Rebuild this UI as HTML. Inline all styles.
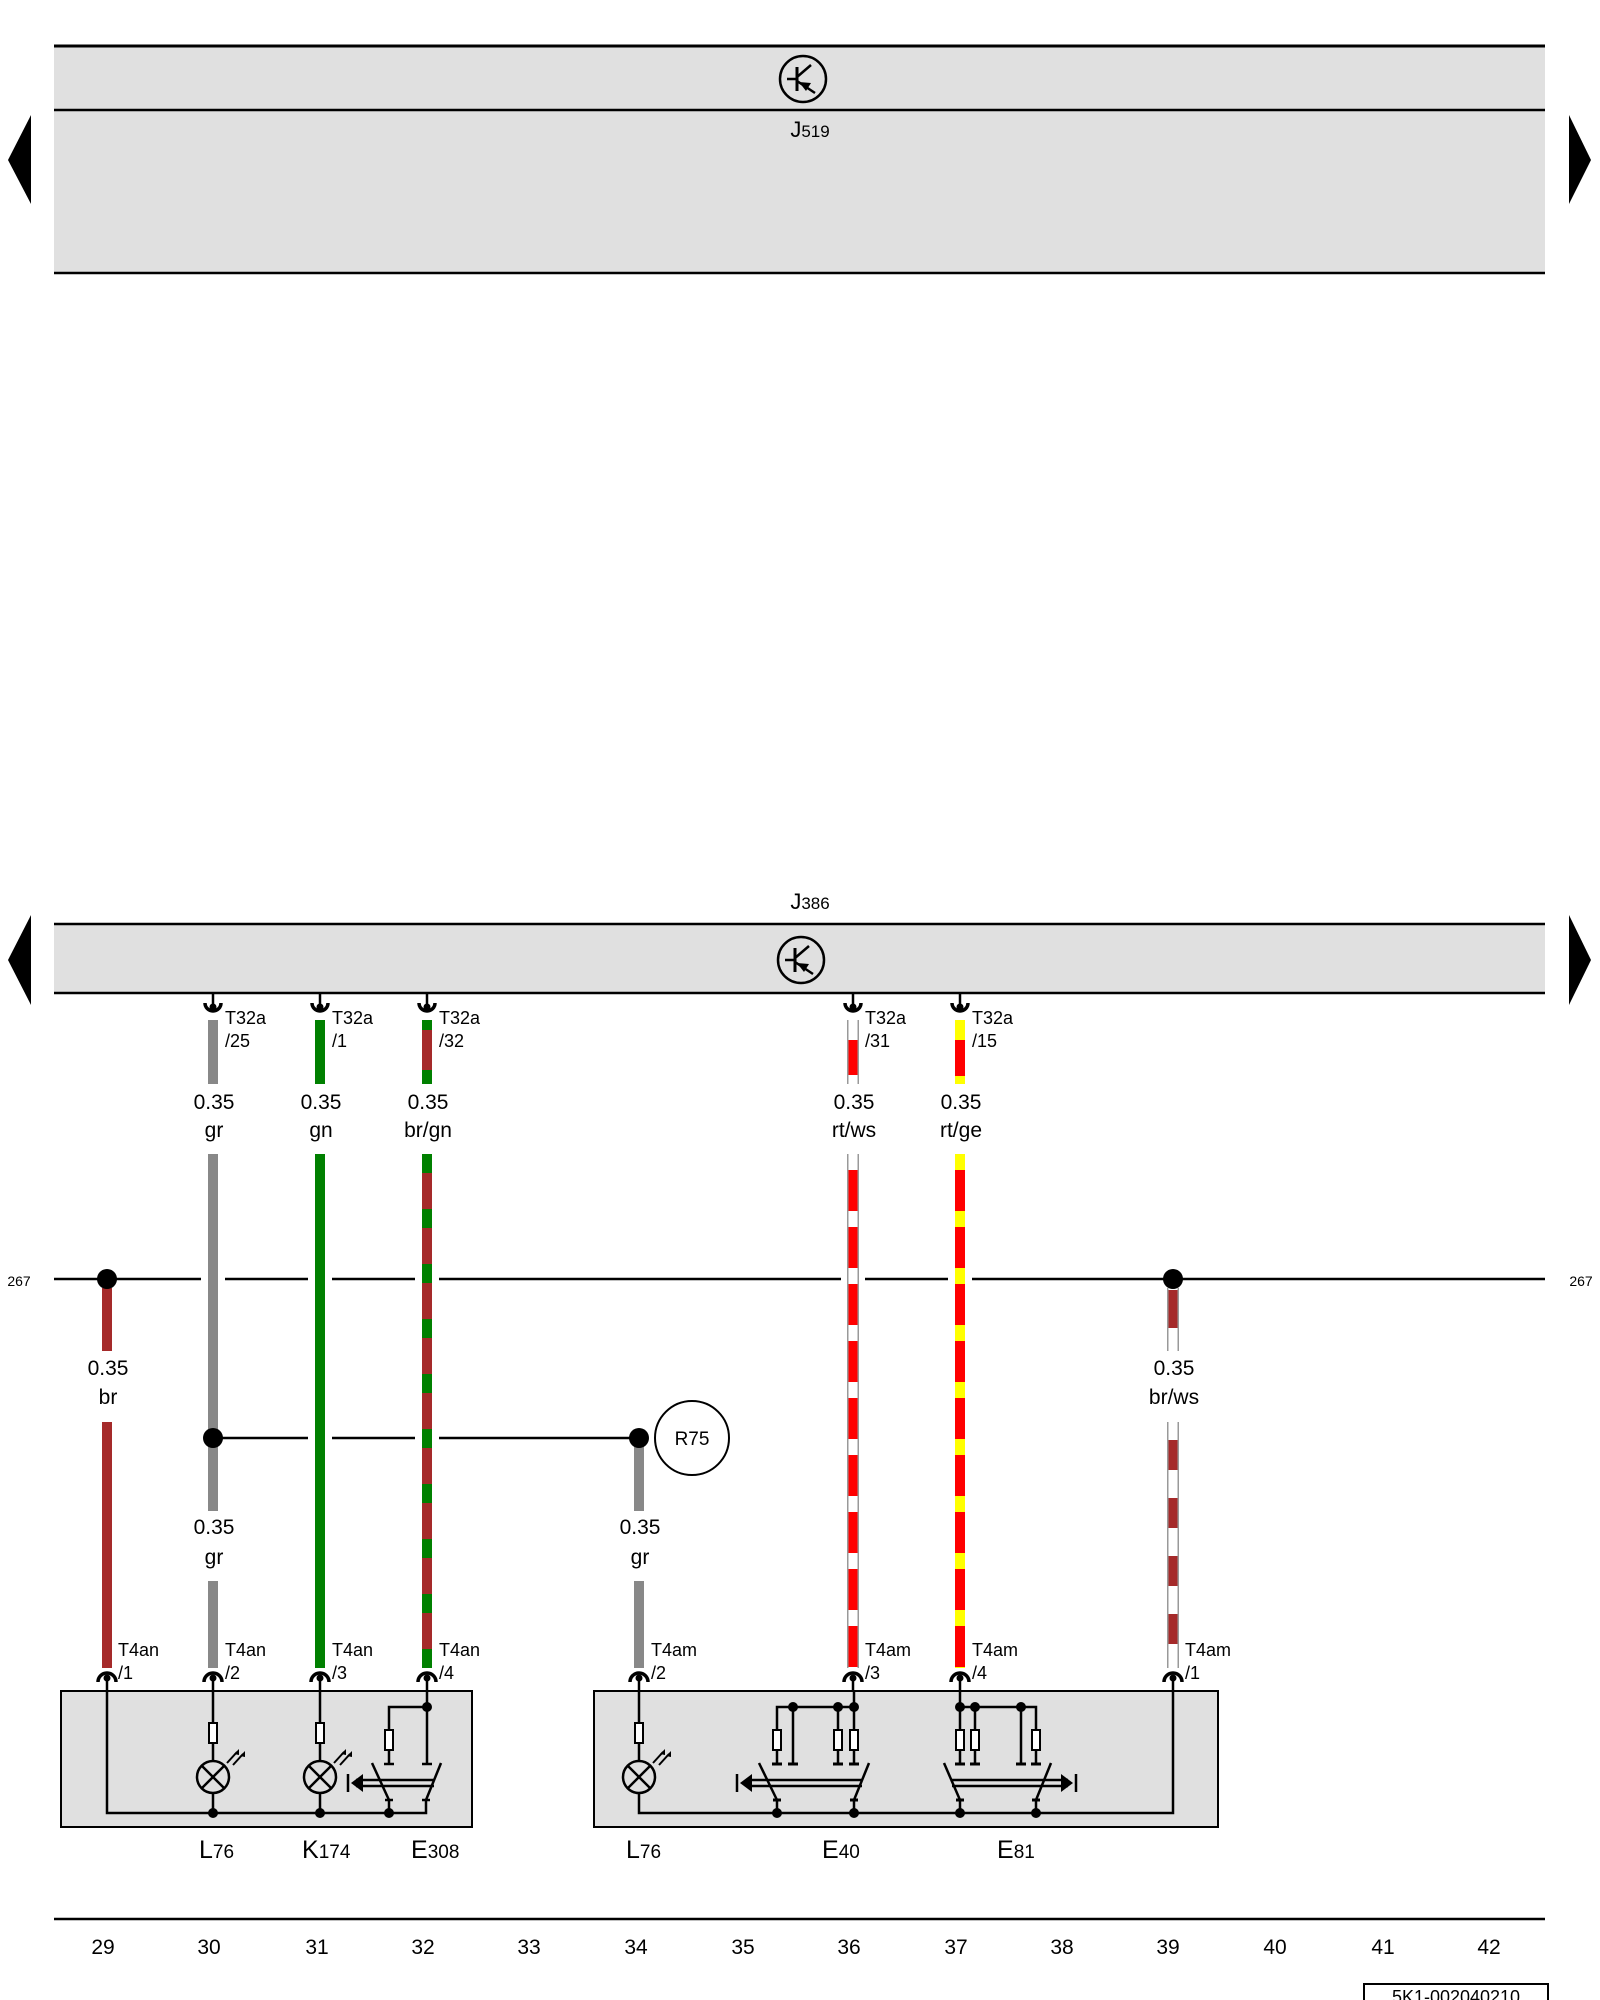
<!DOCTYPE html>
<html><head><meta charset="utf-8"><style>
html,body{margin:0;padding:0;background:#fff}
svg{display:block}
text{font-family:"Liberation Sans",sans-serif;fill:#000}
</style></head><body>
<svg width="1600" height="2000" viewBox="0 0 1600 2000" xmlns="http://www.w3.org/2000/svg">
<defs>
<g id="ctop"><line x1="0" y1="-18" x2="0" y2="-2" stroke="#000" stroke-width="2.5"/><circle cx="0" cy="-4" r="3.5" fill="#000"/><path d="M-8,-8 A8,8 0 0 0 8,-8" fill="none" stroke="#000" stroke-width="3.5"/></g>
<g id="cbot"><line x1="0" y1="2" x2="0" y2="17" stroke="#000" stroke-width="2.5"/><circle cx="0" cy="4" r="3.5" fill="#000"/><path d="M-9,8 A9,9 0 0 1 9,8" fill="none" stroke="#000" stroke-width="3.5"/></g>
<g id="sym"><circle cx="0" cy="0" r="23" fill="none" stroke="#000" stroke-width="2.5"/><line x1="-6" y1="-12" x2="-6" y2="12" stroke="#000" stroke-width="3"/><line x1="-16" y1="0" x2="-6" y2="0" stroke="#000" stroke-width="2.5"/><line x1="-6" y1="-2" x2="8" y2="-14" stroke="#000" stroke-width="2.5"/><line x1="-6" y1="2" x2="12" y2="14" stroke="#000" stroke-width="2.5"/><polygon points="-4,3 8,4 3,12" fill="#000"/></g>
<g id="res"><rect x="-4" y="0" width="8" height="20" fill="#fff" stroke="#000" stroke-width="2"/></g>
<g id="lamp"><circle cx="0" cy="0" r="16" fill="none" stroke="#000" stroke-width="2.5"/><line x1="-11" y1="-11" x2="11" y2="11" stroke="#000" stroke-width="2.5"/><line x1="-11" y1="11" x2="11" y2="-11" stroke="#000" stroke-width="2.5"/><g stroke="#000" stroke-width="2"><line x1="14" y1="-14" x2="24" y2="-25"/><line x1="20" y1="-12" x2="30" y2="-23"/></g><polygon points="26,-28 21,-23 26,-22" fill="#000"/><polygon points="32,-26 27,-21 32,-20" fill="#000"/></g>
</defs>

<!-- top J519 box -->
<rect x="54" y="46" width="1491" height="227" fill="#e0e0e0"/>
<line x1="54" y1="46" x2="1545" y2="46" stroke="#000" stroke-width="3"/>
<line x1="54" y1="110" x2="1545" y2="110" stroke="#000" stroke-width="2.5"/>
<line x1="54" y1="273" x2="1545" y2="273" stroke="#000" stroke-width="2.5"/>
<use href="#sym" x="803" y="79"/>
<text x="810" y="137" font-size="22" text-anchor="middle">J<tspan font-size="17">519</tspan></text>
<polygon points="31,115 8,160 31,204" fill="#000"/>
<polygon points="1569,115 1591,160 1569,204" fill="#000"/>

<!-- J386 box -->
<text x="810" y="909" font-size="22" text-anchor="middle">J<tspan font-size="17">386</tspan></text>
<rect x="54" y="924" width="1491" height="69" fill="#e0e0e0"/>
<line x1="54" y1="924" x2="1545" y2="924" stroke="#000" stroke-width="2.5"/>
<line x1="54" y1="993" x2="1545" y2="993" stroke="#000" stroke-width="2.5"/>
<use href="#sym" x="801" y="960"/>
<polygon points="31,915 8,960 31,1005" fill="#000"/>
<polygon points="1569,915 1591,960 1569,1005" fill="#000"/>

<!-- bus 267 -->
<line x1="54" y1="1279" x2="1545" y2="1279" stroke="#000" stroke-width="2.5"/>
<text x="19" y="1286" font-size="14" text-anchor="middle">267</text>
<text x="1581" y="1286" font-size="14" text-anchor="middle">267</text>
<!-- R75 line -->
<line x1="213" y1="1438" x2="639" y2="1438" stroke="#000" stroke-width="2.5"/>
<circle cx="692" cy="1438" r="37" fill="#fff" stroke="#000" stroke-width="2"/>
<text x="692" y="1445" font-size="19" text-anchor="middle">R75</text>
<!-- gaps -->
<g fill="#fff"><rect x="201" y="1272" width="24" height="14"/><rect x="308" y="1272" width="24" height="14"/><rect x="415" y="1272" width="24" height="14"/><rect x="841" y="1272" width="24" height="14"/><rect x="948" y="1272" width="24" height="14"/><rect x="308" y="1431" width="24" height="14"/><rect x="415" y="1431" width="24" height="14"/></g>

<!-- wires -->
<g stroke-width="10" fill="none">
<!-- gr 213 -->
<line x1="213" y1="1020" x2="213" y2="1084" stroke="#888"/>
<line x1="213" y1="1154" x2="213" y2="1511" stroke="#888"/>
<line x1="213" y1="1581" x2="213" y2="1668" stroke="#888"/>
<!-- gn 320 -->
<line x1="320" y1="1020" x2="320" y2="1084" stroke="#008000"/>
<line x1="320" y1="1154" x2="320" y2="1668" stroke="#008000"/>
<!-- br/gn 427 -->
<line x1="427" y1="1020" x2="427" y2="1084" stroke="#a52a2a"/>
<line x1="427" y1="1020" x2="427" y2="1084" stroke="#008000" stroke-dasharray="10 40 20 200"/>
<line x1="427" y1="1154" x2="427" y2="1668" stroke="#a52a2a"/>
<line x1="427" y1="1154" x2="427" y2="1668" stroke="#008000" stroke-dasharray="19 36"/>
<!-- br 107 -->
<line x1="107" y1="1288" x2="107" y2="1351" stroke="#a52a2a"/>
<line x1="107" y1="1422" x2="107" y2="1668" stroke="#a52a2a"/>
<!-- gr 639 -->
<line x1="639" y1="1438" x2="639" y2="1511" stroke="#888"/>
<line x1="639" y1="1581" x2="639" y2="1668" stroke="#888"/>
</g>
<!-- striped with outline -->
<g fill="none">
<g stroke="#999" stroke-width="12">
<line x1="853" y1="1020" x2="853" y2="1084"/><line x1="853" y1="1154" x2="853" y2="1668"/>
<line x1="1173" y1="1288" x2="1173" y2="1351"/><line x1="1173" y1="1422" x2="1173" y2="1668"/>
</g>
<g stroke-width="9">
<line x1="853" y1="1020" x2="853" y2="1084" stroke="#fff"/>
<line x1="853" y1="1040" x2="853" y2="1075" stroke="#f00"/>
<line x1="853" y1="1154" x2="853" y2="1668" stroke="#f00"/>
<line x1="853" y1="1154" x2="853" y2="1668" stroke="#fff" stroke-dasharray="16 41"/>
<line x1="960" y1="1020" x2="960" y2="1084" stroke="#f00" stroke-width="10"/>
<line x1="960" y1="1020" x2="960" y2="1040" stroke="#ff0" stroke-width="10"/>
<line x1="960" y1="1076" x2="960" y2="1084" stroke="#ff0" stroke-width="10"/>
<line x1="960" y1="1154" x2="960" y2="1668" stroke="#f00" stroke-width="10"/>
<line x1="960" y1="1154" x2="960" y2="1668" stroke="#ff0" stroke-dasharray="16 41" stroke-width="10"/>
<line x1="1173" y1="1288" x2="1173" y2="1351" stroke="#fff"/>
<line x1="1173" y1="1290" x2="1173" y2="1328" stroke="#a52a2a"/>
<line x1="1173" y1="1422" x2="1173" y2="1668" stroke="#fff"/>
<line x1="1173" y1="1440" x2="1173" y2="1668" stroke="#a52a2a" stroke-dasharray="30 28"/>
</g>
</g>
<!-- dots -->
<circle cx="107" cy="1279" r="10" fill="#000"/>
<circle cx="1173" cy="1279" r="10" fill="#000"/>
<circle cx="213" cy="1438" r="10" fill="#000"/>
<circle cx="639" cy="1438" r="10" fill="#000"/>

<!-- top connectors -->
<use href="#ctop" x="213" y="1011"/><use href="#ctop" x="320" y="1011"/><use href="#ctop" x="427" y="1011"/><use href="#ctop" x="853" y="1011"/><use href="#ctop" x="960" y="1011"/>
<g font-size="18">
<text x="225" y="1024">T32a</text><text x="225" y="1047">/25</text>
<text x="332" y="1024">T32a</text><text x="332" y="1047">/1</text>
<text x="439" y="1024">T32a</text><text x="439" y="1047">/32</text>
<text x="865" y="1024">T32a</text><text x="865" y="1047">/31</text>
<text x="972" y="1024">T32a</text><text x="972" y="1047">/15</text>
</g>
<g font-size="21" text-anchor="middle">
<text x="214" y="1109">0.35</text><text x="214" y="1137">gr</text>
<text x="321" y="1109">0.35</text><text x="321" y="1137">gn</text>
<text x="428" y="1109">0.35</text><text x="428" y="1137">br/gn</text>
<text x="854" y="1109">0.35</text><text x="854" y="1137">rt/ws</text>
<text x="961" y="1109">0.35</text><text x="961" y="1137">rt/ge</text>
<text x="108" y="1375">0.35</text><text x="108" y="1404">br</text>
<text x="1174" y="1375">0.35</text><text x="1174" y="1404">br/ws</text>
<text x="214" y="1534">0.35</text><text x="214" y="1564">gr</text>
<text x="640" y="1534">0.35</text><text x="640" y="1564">gr</text>
</g>

<!-- component boxes -->
<rect x="61" y="1691" width="411" height="136" fill="#e0e0e0" stroke="#000" stroke-width="2"/>
<rect x="594" y="1691" width="624" height="136" fill="#e0e0e0" stroke="#000" stroke-width="2"/>

<!-- bottom connectors -->
<use href="#cbot" x="107" y="1674"/><use href="#cbot" x="213" y="1674"/><use href="#cbot" x="320" y="1674"/><use href="#cbot" x="427" y="1674"/>
<use href="#cbot" x="639" y="1674"/><use href="#cbot" x="853" y="1674"/><use href="#cbot" x="960" y="1674"/><use href="#cbot" x="1173" y="1674"/>
<g font-size="18">
<text x="118" y="1656">T4an</text><text x="118" y="1679">/1</text>
<text x="225" y="1656">T4an</text><text x="225" y="1679">/2</text>
<text x="332" y="1656">T4an</text><text x="332" y="1679">/3</text>
<text x="439" y="1656">T4an</text><text x="439" y="1679">/4</text>
<text x="651" y="1656">T4am</text><text x="651" y="1679">/2</text>
<text x="865" y="1656">T4am</text><text x="865" y="1679">/3</text>
<text x="972" y="1656">T4am</text><text x="972" y="1679">/4</text>
<text x="1185" y="1656">T4am</text><text x="1185" y="1679">/1</text>
</g>

<!-- left box internals -->
<g stroke="#000" stroke-width="2.5" fill="none">
<polyline points="107,1690 107,1813 426,1813 426,1800"/>
<line x1="213" y1="1690" x2="213" y2="1761"/>
<line x1="320" y1="1690" x2="320" y2="1761"/>
<polyline points="427,1690 427,1764"/>
<polyline points="427,1707 389,1707 389,1764"/>
<line x1="213" y1="1793" x2="213" y2="1813"/>
<line x1="320" y1="1793" x2="320" y2="1813"/>
<line x1="389" y1="1800" x2="389" y2="1813"/>
<line x1="372" y1="1763" x2="389" y2="1800"/>
<line x1="441" y1="1763" x2="426" y2="1800"/>
<line x1="384" y1="1764" x2="394" y2="1764"/><line x1="422" y1="1764" x2="432" y2="1764"/>
<line x1="385" y1="1800" x2="393" y2="1800"/><line x1="422" y1="1800" x2="430" y2="1800"/>
<line x1="356" y1="1780" x2="434" y2="1780"/><line x1="356" y1="1786" x2="434" y2="1786"/>
<line x1="348" y1="1774" x2="348" y2="1792"/>
</g>
<polygon points="351,1783 363,1774 363,1792" fill="#000"/>
<use href="#res" x="213" y="1723"/><use href="#res" x="320" y="1723"/><use href="#res" x="389" y="1730"/>
<use href="#lamp" x="213" y="1777"/><use href="#lamp" x="320" y="1777"/>
<g fill="#000"><circle cx="213" cy="1813" r="5"/><circle cx="320" cy="1813" r="5"/><circle cx="389" cy="1813" r="5"/><circle cx="427" cy="1707" r="5"/></g>

<!-- right box internals -->
<g stroke="#000" stroke-width="2.5" fill="none">
<line x1="639" y1="1690" x2="639" y2="1761"/>
<polyline points="639,1793 639,1813 1173,1813 1173,1690"/>
<line x1="854" y1="1690" x2="854" y2="1764"/>
<polyline points="777,1764 777,1707 854,1707"/>
<line x1="793" y1="1707" x2="793" y2="1764"/>
<line x1="838" y1="1707" x2="838" y2="1764"/>
<line x1="960" y1="1690" x2="960" y2="1764"/>
<polyline points="960,1707 1036,1707 1036,1764"/>
<line x1="975" y1="1707" x2="975" y2="1764"/>
<line x1="1021" y1="1707" x2="1021" y2="1764"/>
<line x1="759" y1="1763" x2="777" y2="1800"/>
<line x1="869" y1="1763" x2="854" y2="1800"/>
<line x1="944" y1="1763" x2="960" y2="1800"/>
<line x1="1051" y1="1763" x2="1036" y2="1800"/>
<line x1="777" y1="1800" x2="777" y2="1813"/><line x1="854" y1="1800" x2="854" y2="1813"/>
<line x1="960" y1="1800" x2="960" y2="1813"/><line x1="1036" y1="1800" x2="1036" y2="1813"/>
<g stroke-width="3"><line x1="772" y1="1764" x2="782" y2="1764"/><line x1="788" y1="1764" x2="798" y2="1764"/><line x1="833" y1="1764" x2="843" y2="1764"/><line x1="849" y1="1764" x2="859" y2="1764"/>
<line x1="955" y1="1764" x2="965" y2="1764"/><line x1="970" y1="1764" x2="980" y2="1764"/><line x1="1016" y1="1764" x2="1026" y2="1764"/><line x1="1031" y1="1764" x2="1041" y2="1764"/>
<line x1="773" y1="1800" x2="781" y2="1800"/><line x1="850" y1="1800" x2="858" y2="1800"/><line x1="956" y1="1800" x2="964" y2="1800"/><line x1="1032" y1="1800" x2="1040" y2="1800"/></g>
<line x1="746" y1="1780" x2="862" y2="1780"/><line x1="746" y1="1786" x2="862" y2="1786"/>
<line x1="737" y1="1774" x2="737" y2="1792"/>
<line x1="952" y1="1780" x2="1068" y2="1780"/><line x1="952" y1="1786" x2="1068" y2="1786"/>
<line x1="1076" y1="1774" x2="1076" y2="1792"/>
</g>
<polygon points="740,1783 752,1774 752,1792" fill="#000"/>
<polygon points="1073,1783 1061,1774 1061,1792" fill="#000"/>
<use href="#res" x="639" y="1723"/>
<use href="#res" x="777" y="1730"/><use href="#res" x="838" y="1730"/><use href="#res" x="854" y="1730"/>
<use href="#res" x="960" y="1730"/><use href="#res" x="975" y="1730"/><use href="#res" x="1036" y="1730"/>
<use href="#lamp" x="639" y="1777"/>
<g fill="#000">
<circle cx="793" cy="1707" r="5"/><circle cx="838" cy="1707" r="5"/><circle cx="854" cy="1707" r="5"/>
<circle cx="960" cy="1707" r="5"/><circle cx="975" cy="1707" r="5"/><circle cx="1021" cy="1707" r="5"/>
<circle cx="777" cy="1813" r="5"/><circle cx="854" cy="1813" r="5"/><circle cx="960" cy="1813" r="5"/><circle cx="1036" cy="1813" r="5"/>
</g>

<!-- component labels -->
<g font-size="25">
<text x="199" y="1858">L<tspan font-size="19">76</tspan></text>
<text x="302" y="1858">K<tspan font-size="19">174</tspan></text>
<text x="411" y="1858">E<tspan font-size="19">308</tspan></text>
<text x="626" y="1858">L<tspan font-size="19">76</tspan></text>
<text x="822" y="1858">E<tspan font-size="19">40</tspan></text>
<text x="997" y="1858">E<tspan font-size="19">81</tspan></text>
</g>

<!-- bottom scale -->
<line x1="54" y1="1919" x2="1545" y2="1919" stroke="#000" stroke-width="2.5"/>
<g font-size="21" text-anchor="middle">
<text x="103" y="1954">29</text><text x="209" y="1954">30</text><text x="317" y="1954">31</text><text x="423" y="1954">32</text>
<text x="529" y="1954">33</text><text x="636" y="1954">34</text><text x="743" y="1954">35</text><text x="849" y="1954">36</text>
<text x="956" y="1954">37</text><text x="1062" y="1954">38</text><text x="1168" y="1954">39</text><text x="1275" y="1954">40</text>
<text x="1383" y="1954">41</text><text x="1489" y="1954">42</text>
</g>
<rect x="1364" y="1984" width="184" height="30" fill="#fff" stroke="#000" stroke-width="2"/>
<text x="1456" y="2003" font-size="18" text-anchor="middle">5K1-002040210</text>
</svg>
</body></html>
